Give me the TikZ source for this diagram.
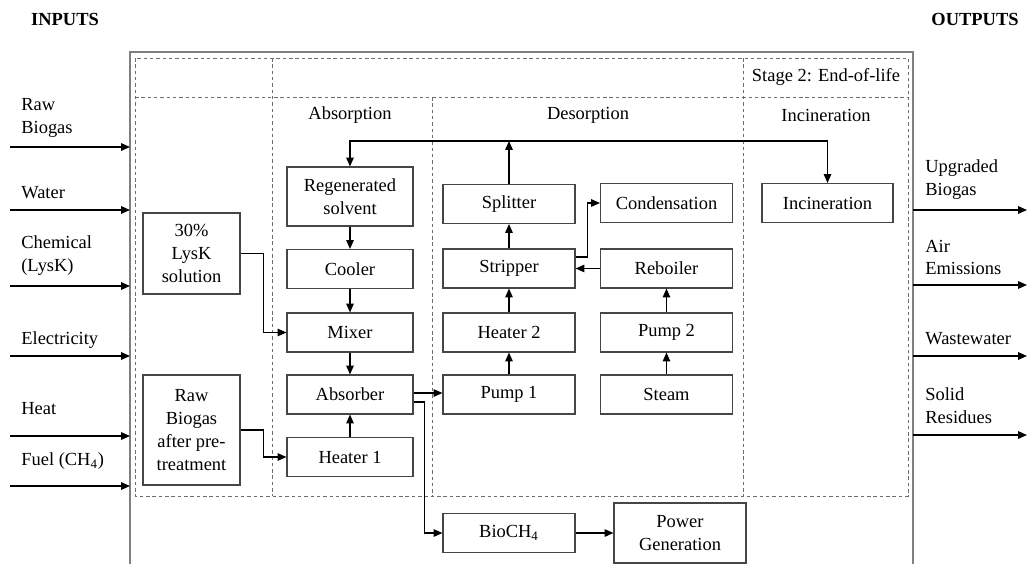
\documentclass[tikz,border=0pt]{standalone}
\usepackage{fontspec}
\setmainfont{Liberation Serif}
\definecolor{boxgray}{RGB}{70, 70, 70}
\definecolor{framegray}{RGB}{128, 128, 128}
\definecolor{dashgray}{RGB}{110, 110, 110}
\usetikzlibrary{arrows.meta, positioning, calc}

\begin{document}
\begin{tikzpicture}[
  x=0.02cm, y=-0.02cm,
  font=\fontsize{10.5}{13}\selectfont,
  pbox/.style={draw=boxgray, line width=0.6pt, minimum width=2.52cm, minimum height=0.78cm, align=center, inner sep=1pt},
  dbox/.style={pbox, minimum width=2.64cm},
  sidebox/.style={pbox, minimum width=1.94cm},
  flow/.style={-{Triangle[length=5pt,width=4.2pt]}, line width=0.75pt},
  io/.style={anchor=west, align=left, inner sep=0pt},
  dashline/.style={draw=dashgray, line width=0.5pt, dash pattern=on 2pt off 1.6pt},
  frame/.style={draw=framegray, line width=1.1pt}
]
  \useasboundingbox (0,0) rectangle (1027,564);

  % system boundary
  \coordinate (oL) at (130,52);
  \coordinate (oR) at (913,52);
  \draw[frame] (130,564) -- (oL) -- (oR) -- (913,564);
  \draw[dashline] (135,58) rectangle (908,496);
  \draw[dashline] (135,97) -- (908,97);
  \draw[dashline] (272,58) -- (272,496);
  \draw[dashline] (432,97) -- (432,496);
  \draw[dashline] (743,58) -- (743,496);

  \node[font=\fontsize{10.5}{13}\selectfont\bfseries] (inputs) at (65,19) {INPUTS};
  \node[font=\fontsize{10.5}{13}\selectfont\bfseries] (outputs) at (975,19) {OUTPUTS};
  \node (stage) at (826,77) {Stage 2: End-of-life};
  \node (habs) at (350,115) {Absorption};
  \node (hdes) at (588,115) {Desorption};
  \node (hinc) at (826,115) {Incineration};

  % absorption
  \node[pbox, minimum height=1.18cm] (regen) at (350,196.5) {Regenerated\\solvent};
  \node[pbox] (cooler) at (350,269) {Cooler};
  \node[pbox] (mixer) at (350,332.5) {Mixer};
  \node[pbox] (absorber) at (350,394.5) {Absorber};
  \node[pbox] (heater1) at (350,457) {Heater 1};
  \node[sidebox, minimum height=1.62cm] (lysk) at (191.5,253.5) {30\%\\LysK\\solution};
  \node[sidebox, minimum height=2.2cm] (rawpre) at (191.5,430) {Raw\\Biogas\\after pre-\\treatment};

  % desorption
  \node[dbox] (splitter) at (509,204) {Splitter};
  \node[dbox] (condens) at (666.5,203) {Condensation};
  \node[dbox] (stripper) at (509,268.5) {Stripper};
  \node[dbox] (reboiler) at (666.5,268.5) {Reboiler};
  \node[dbox] (heater2) at (509,332.5) {Heater 2};
  \node[dbox] (pump2) at (666.5,332.5) {Pump 2};
  \node[dbox] (pump1) at (509,394.5) {Pump 1};
  \node[dbox] (steam) at (666.5,394.5) {Steam};

  % end-of-life and product
  \node[dbox, minimum width=2.62cm] (incin) at (827.5,203) {Incineration};
  \node[dbox] (bio) at (509,533) {BioCH\textsubscript{4}};
  \node[dbox, minimum height=1.2cm] (power) at (680,533) {Power\\Generation};

  \draw[flow] (regen) -- (cooler);
  \draw[flow] (cooler) -- (mixer);
  \draw[flow] (mixer) -- (absorber);
  \draw[flow] (heater1) -- (absorber);
  \draw[flow] (lysk.east) -- ++(0.46cm,0) |- (mixer.west);
  \draw[flow] (rawpre.east) -- ++(0.46cm,0) |- (heater1.west);
  \draw[flow] ([yshift=0.03cm]absorber.east) -- ([yshift=0.03cm]pump1.west);
  \draw[flow] ([yshift=-0.15cm]absorber.east) -- ++(0.22cm,0) |- (bio.west);
  \draw[flow] (bio) -- (power);
  \draw[flow] (pump1) -- (heater2);
  \draw[flow] (heater2) -- (stripper);
  \draw[flow] (stripper) -- (splitter);
  \draw[flow] ([yshift=0.23cm]stripper.east) -- ++(0.24cm,0) |- (condens.west);
  \draw[flow] (reboiler) -- (stripper);
  \draw[flow] (steam) -- (pump2);
  \draw[flow] (pump2) -- (reboiler);
  \coordinate (loop) at (509,141);
  \draw[flow] (splitter) -- (loop);
  \draw[flow, {Triangle[length=5pt,width=4.2pt]}-{Triangle[length=5pt,width=4.2pt]}] (regen.north) |- (loop) -| (incin.north);

  % inputs
  \node[io] (lraw) at (21,118) {Raw\\Biogas};
  \node[io] (lwater) at (21,193) {Water};
  \node[io] (lchem) at (21,256) {Chemical\\(LysK)};
  \node[io] (lelec) at (21,340) {Electricity};
  \node[io] (lheat) at (21,409) {Heat};
  \node[io] (lfuel) at (21,461) {Fuel (CH\textsubscript{4})};
  \coordinate (iraw) at (10,147);
  \coordinate (iwater) at (10,210);
  \coordinate (ichem) at (10,286);
  \coordinate (ielec) at (10,356);
  \coordinate (iheat) at (10,436);
  \coordinate (ifuel) at (10,486);
  \draw[flow] (iraw) -- (iraw -| oL);
  \draw[flow] (iwater) -- (iwater -| oL);
  \draw[flow] (ichem) -- (ichem -| oL);
  \draw[flow] (ielec) -- (ielec -| oL);
  \draw[flow] (iheat) -- (iheat -| oL);
  \draw[flow] (ifuel) -- (ifuel -| oL);

  % outputs
  \node[io] (lupg) at (925,179.5) {Upgraded\\Biogas};
  \node[io] (lair) at (925,257.5) {Air\\Emissions};
  \node[io] (lwaste) at (925,339) {Wastewater};
  \node[io] (lsolid) at (925,406) {Solid\\Residues};
  \coordinate (oupg) at (1027,210);
  \coordinate (oair) at (1027,285);
  \coordinate (owaste) at (1027,356);
  \coordinate (osolid) at (1027,435);
  \draw[flow] (oupg -| oR) -- (oupg);
  \draw[flow] (oair -| oR) -- (oair);
  \draw[flow] (owaste -| oR) -- (owaste);
  \draw[flow] (osolid -| oR) -- (osolid);
\end{tikzpicture}
\end{document}
